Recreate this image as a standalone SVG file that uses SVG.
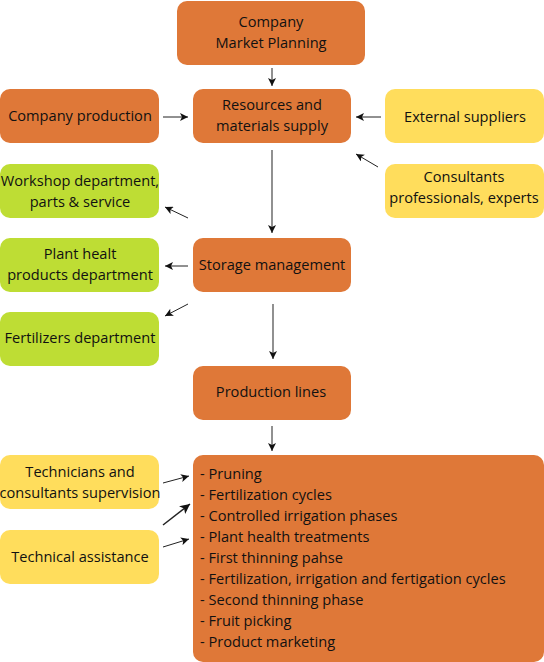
<svg xmlns="http://www.w3.org/2000/svg" width="544" height="662" viewBox="0 0 544 662">
<style>
text{font-family:"Open Sans","Noto Sans",sans-serif;font-size:14.6px;fill:#111}
.c{text-anchor:middle}
.o{fill:#DF7838}
.g{fill:#BEDD34}
.y{fill:#FFDD5C}
.l{stroke:#222;stroke-width:1;fill:none;marker-end:url(#ah)}
.v{stroke:#555;stroke-width:1.3;fill:none;marker-end:url(#ah)}
</style>
<defs>
<marker id="ah" viewBox="0 0 10 10" refX="10" refY="5" markerWidth="10" markerHeight="8" markerUnits="userSpaceOnUse" orient="auto">
<path d="M0,0 L10,5 L0,10 L2.5,5 z" fill="#111"/>
</marker>
<marker id="ah2" viewBox="0 0 10 10" refX="10" refY="5" markerWidth="13" markerHeight="10" markerUnits="userSpaceOnUse" orient="auto">
<path d="M0,0 L10,5 L0,10 L2.5,5 z" fill="#111"/>
</marker>
</defs>
<g id="n-planning"><rect class="o" x="177" y="1" width="188" height="64" rx="10"/><text class="c" x="271" y="27">Company</text><text class="c" x="271" y="48">Market Planning</text></g>
<g id="n-supply"><rect class="o" x="193" y="89" width="158" height="54" rx="10"/><text class="c" x="272" y="110">Resources and</text><text class="c" x="272" y="131">materials supply</text></g>
<g id="n-production"><rect class="o" x="0" y="89" width="159" height="54" rx="10"/><text class="c" x="80" y="121">Company production</text></g>
<g id="n-external"><rect class="y" x="385" y="89" width="159" height="54" rx="10"/><text class="c" x="465" y="122">External suppliers</text></g>
<g id="n-consultants"><rect class="y" x="385" y="164" width="159" height="54" rx="10"/><text class="c" x="464" y="182">Consultants</text><text class="c" x="464" y="203">professionals, experts</text></g>
<g id="n-workshop"><rect class="g" x="0" y="164" width="159" height="54" rx="10"/><text class="c" x="80" y="186">Workshop department,</text><text class="c" x="80" y="207">parts &amp; service</text></g>
<g id="n-plant"><rect class="g" x="0" y="238" width="159" height="54" rx="10"/><text class="c" x="80" y="259">Plant healt</text><text class="c" x="80" y="280">products department</text></g>
<g id="n-storage"><rect class="o" x="193" y="238" width="158" height="54" rx="10"/><text class="c" x="272" y="270">Storage management</text></g>
<g id="n-fert"><rect class="g" x="0" y="312" width="159" height="54" rx="10"/><text class="c" x="80" y="343">Fertilizers department</text></g>
<g id="n-lines"><rect class="o" x="193" y="366" width="158" height="54" rx="10"/><text class="c" x="271" y="397">Production lines</text></g>
<g id="n-tasks"><rect class="o" x="193" y="455" width="351" height="207" rx="10"/>
<text x="200" y="479">- Pruning</text>
<text x="200" y="500">- Fertilization cycles</text>
<text x="200" y="521">- Controlled irrigation phases</text>
<text x="200" y="542">- Plant health treatments</text>
<text x="200" y="563">- First thinning pahse</text>
<text x="200" y="584">- Fertilization, irrigation and fertigation cycles</text>
<text x="200" y="605">- Second thinning phase</text>
<text x="200" y="626">- Fruit picking</text>
<text x="200" y="647">- Product marketing</text>
</g>
<g id="n-tech"><rect class="y" x="0" y="455" width="159" height="54" rx="10"/><text class="c" x="80" y="477">Technicians and</text><text class="c" x="80" y="498">consultants supervision</text></g>
<g id="n-assist"><rect class="y" x="0" y="530" width="159" height="54" rx="10"/><text class="c" x="80" y="562">Technical assistance</text></g>
<g id="connectors">
<line class="l" x1="272" y1="68" x2="272" y2="86"/>
<line class="l" x1="163" y1="117" x2="188" y2="117"/>
<line class="l" x1="381" y1="117" x2="356" y2="117"/>
<line class="l" x1="378" y1="167" x2="356" y2="154"/>
<line class="v" x1="272" y1="150" x2="272" y2="233"/>
<line class="l" x1="188" y1="218" x2="165" y2="207"/>
<line class="l" x1="188" y1="266" x2="165" y2="266"/>
<line class="l" x1="188" y1="304" x2="165" y2="316"/>
<line class="v" x1="273" y1="304" x2="273" y2="359"/>
<line class="l" x1="272" y1="426" x2="272" y2="451"/>
<line class="l" x1="163" y1="483" x2="189" y2="476"/>
<line x1="163" y1="525" x2="190" y2="504" stroke="#222" stroke-width="1.5" marker-end="url(#ah2)"/>
<line class="l" x1="163" y1="547" x2="189" y2="539"/>
</g>
</svg>
